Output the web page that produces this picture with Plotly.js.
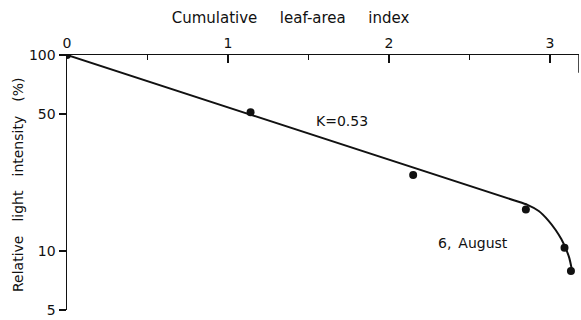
<!DOCTYPE html>
<html><head><meta charset="utf-8">
<script src="https://cdn.plot.ly/plotly-3.0.1.min.js"></script>
<style>html,body{margin:0;padding:0;background:#fff;}#chart{width:581px;height:320px;}</style>
</head><body><div id="chart"></div>
<script>
// Observed points
const laiPoints = [0, 1.14, 2.15, 2.85, 3.09, 3.13];
const lightPoints = [100, 51, 24.4, 16.3, 10.4, 7.9];
// Fitted curve (straight line K=0.53, then bending down)
const laiCurve = [0, 2.78, 2.86, 2.93, 2.99, 3.035, 3.07, 3.1, 3.12, 3.135];
const lightCurve = [100, 18.1, 17.2, 16.0, 14.3, 12.8, 11.5, 10.2, 9.2, 8.1];
const yTicks = [5, 10, 50, 100];

const fam = 'DejaVu Sans, Liberation Sans, Arial, sans-serif';
const font = {family: fam, color: '#111', size: 14};

Plotly.newPlot('chart', [
  {x: laiCurve, y: lightCurve, mode: 'lines', type: 'scatter',
   line: {color: '#111', width: 2, shape: 'spline', smoothing: 0.6}, hoverinfo: 'skip'},
  {x: laiPoints, y: lightPoints, mode: 'markers', type: 'scatter',
   marker: {color: '#111', size: 8}}
], {
  width: 581, height: 320,
  margin: {l: 67, r: 2, t: 55, b: 10},
  paper_bgcolor: '#fff', plot_bgcolor: '#fff',
  showlegend: false,
  font: font,
  title: {text: 'Cumulative\u2003\u2002leaf-area\u2003\u2002index', font: {size: 15, family: fam, color: '#111'}, x: 0.5, xanchor: 'center', y: 0.944, yanchor: 'middle'},
  xaxis: {side: 'top', range: [0, 3.18], tick0: 0, dtick: 1,
    ticks: 'inside', ticklen: 8, tickwidth: 1.5, tickcolor: '#111',
    minor: {tick0: 0, dtick: 0.5, ticks: 'inside', ticklen: 5, tickwidth: 1.5, tickcolor: '#111', showgrid: false},
    showline: true, linecolor: '#111', linewidth: 1.5, showgrid: false, zeroline: false,
    tickfont: {size: 14}},
  yaxis: {type: 'log', range: [Math.log10(5), 2], tickvals: yTicks, ticktext: yTicks.map(String),
    ticks: 'outside', ticklen: 7, tickwidth: 1.5, tickcolor: '#111',
    showline: true, linecolor: '#111', linewidth: 1.5, showgrid: false, zeroline: false,
    tickfont: {size: 14}},
  annotations: [
    {xref: 'paper', yref: 'paper', x: (18 - 67) / 512, y: 1 - (185 - 55) / 255, textangle: -90,
     text: 'Relative\u2003light\u2003intensity\u2003(%)', showarrow: false, font: {size: 14}, xanchor: 'center', yanchor: 'middle'},
    {x: 1.71, y: Math.log10(46), xref: 'x', yref: 'y', text: 'K=0.53', showarrow: false, font: {size: 14}},
    {x: 2.52, y: Math.log10(11), xref: 'x', yref: 'y', text: '6,\u2002August', showarrow: false, font: {size: 14}}
  ],
  shapes: [
    {type: 'line', xref: 'x', yref: 'paper', x0: 3.18, x1: 3.18, y0: 1, y1: 0.93, line: {color: '#111', width: 1.5}}
  ]
}, {displayModeBar: false, staticPlot: true});
</script></body></html>
